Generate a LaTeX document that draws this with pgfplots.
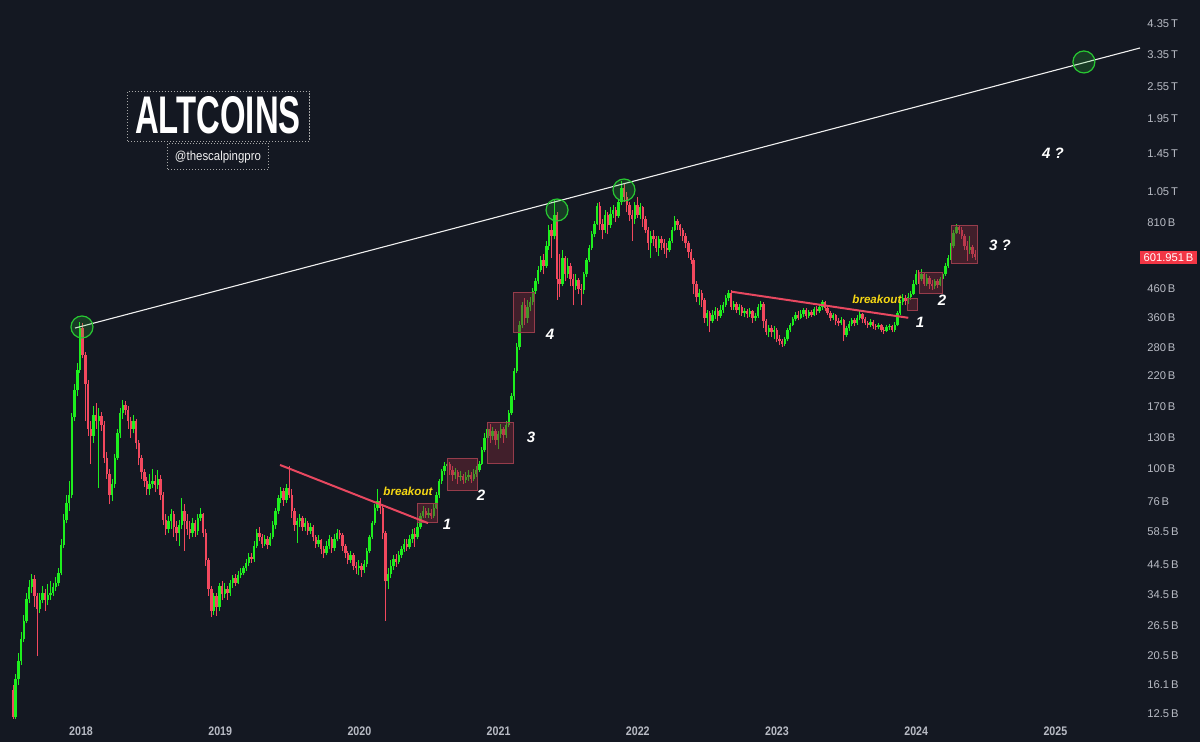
\documentclass[border=0pt]{standalone}
\usepackage{pgfplots}
\pgfplotsset{compat=1.18}
\usepackage{pgfplotstable}
\usepackage{graphicx}
\usepackage{fontspec}
\setmainfont{Liberation Sans}
\definecolor{bg}{HTML}{141822}
\definecolor{cup}{RGB}{30,238,30}
\definecolor{cdn}{RGB}{242,72,94}
\definecolor{tickc}{HTML}{B8BBC4}
\definecolor{boxfill}{RGB}{120,40,55}
\definecolor{boxline}{RGB}{150,60,75}
\definecolor{trendred}{RGB}{232,72,96}
\definecolor{circ}{RGB}{40,200,50}
\definecolor{brk}{RGB}{246,216,20}
\definecolor{pricebox}{RGB}{242,54,69}

\pgfplotstableread{
i o h l c
0 15.3 16 12 12.2
1 12.2 17.5 12 16.8
2 16.8 21 16 19.6
3 19.6 25 19 23.6
4 23.6 29 23 27.5
5 27.5 35 27 33.1
6 33.1 39 32 36.6
7 36.6 41 35 39.2
8 39.2 40.5 31 34
9 34 35 20.5 30.5
10 30.5 35 29.5 33
11 33 37 32 34.8
12 34.8 36 30 32.8
13 32.8 37.5 31.5 34.2
14 34.2 38.5 33 35
15 35 38 34 36.6
16 36.6 40 35.5 38
17 38 43 37 41.3
18 41.3 55 40.5 52.6
19 52.6 68 51 65
20 65 80 63 75
21 75 90 70 80
22 80 160 78 155
23 155 205 150 195
24 195 245 185 231
25 231 348 225 330
26 330 345 255 262
27 262 270 150 205
28 205 212 132 140
29 140 150 104 132
30 132 170 125 158
31 158 175 140 150
32 150 168 85 156
33 156 162 138 145
34 145 150 105 110
35 110 115 92 96
36 96 100 74 80
37 80 92 76 88
38 88 113 85 110
39 110 140 108 135
40 135 168 130 160
41 160 180 152 172
42 172 178 158 165
43 165 170 140 150
44 150 155 130 140
45 140 158 135 150
46 150 152 118 125
47 125 128 103 110
48 110 112 92 97
49 97 100 86 90
50 90 93 80 84
51 84 96 80 88
52 88 100 85 90
53 90 95 82 87
54 87 99 84 92
55 92 95 77 80
56 80 82 62 65
57 65 68 57 60
58 60 67 58 64
59 64 71 60 68
60 68 70 56 61
61 61 64 54 58
62 58 65 52 62
63 62 78 60 70
64 70 74 50 64
65 64 68 57 60
66 60 64 55 58
67 58 66 56 63
68 63 65 56 59
69 59 68 57 66
70 66 72 64 68
71 68 69 56 58
72 58 60 44 46
73 46 47 34 36
74 36 37 28.4 30
75 30 35 29 34
76 34 35 28.8 31
77 31 38 30 37
78 37 38.5 33 34.5
79 34.5 38 33.5 36
80 36 37 33 35
81 35 39 34 38
82 38 40.5 36.5 39.5
83 39.5 41 37 38
84 38 42 37.5 40.5
85 40.5 43 39.5 41.5
86 41.5 44 40.5 43
87 43 46.5 42 45
88 45 49 44 47.5
89 47.5 49 45 46.5
90 46.5 54 45.5 52
91 52 60 51 58
92 58 61 54 56
93 56 57.5 51 53
94 53 57 52 55
95 55 56.5 50.5 52.5
96 52.5 58 52 56
97 56 64 55 62
98 62 72 60 70
99 70 80 68 78
100 78 86 75 83
101 83 85 73 77
102 77 88 75 85
103 85 102 78 80
104 80 84 66 70
105 70 72 59 62
106 62 66 53.5 64
107 64 68 61 66
108 66 67 59 61
109 61 66 59 63
110 63 64 57 59
111 59 63 57.5 61
112 61 62 54 56
113 56 57 51 53
114 53 57 51.5 54.5
115 54.5 55 48.5 50.5
116 50.5 52 47 49
117 49 54 48 52
118 52 57 50.5 55
119 55 56 49 51
120 51 57.5 50 55
121 55 60 54 58
122 58 59.5 55 57
123 57 58 50 52
124 52 53 47 49
125 49 50 44.5 46
126 46 50 45 48
127 48 49 42.5 44
128 44 45.5 41 43
129 43 46 40.5 44
130 44 45 40 42.5
131 42.5 46 41.5 44.5
132 44.5 51 43.5 50
133 50 57 49 56
134 56 64.5 55 63
135 63 74 62 72
136 72 84 70 76
137 76 78 68 72
138 72 73 55 58
139 58 59 27.6 38.5
140 38.5 43 36 41
141 41 46 39.5 44
142 44 48 42.5 46.5
143 46.5 48.5 43.5 45.5
144 45.5 50 44.5 48
145 48 52 47 50.5
146 50.5 55 49.5 53
147 53 55 50 51.5
148 51.5 57 50.5 55
149 55 60 53.5 57.5
150 57.5 60.5 51.5 56
151 56 63 55 61
152 61 69 60 67
153 67 73 66 70
154 70 71.5 66 67.5
155 67.5 72 66 69
156 69 71 65.5 67
157 67 74 66 72
158 72 82 71 80
159 80 92 78 90
160 90 100 88 98
161 98 106 95 102
162 102 108 98 104
163 104 106 95 99
164 99 102 90 95
165 95 101 92 97
166 97 99 88 93
167 93 98 90 94
168 94 96 88 91
169 91 97 89 93
170 93 99 90 95
171 95 97 89 92
172 92 100 90 96
173 96 102 93 99
174 99 107 97 104
175 104 120 103 117
176 117 135 115 130
177 130 145 127 140
178 140 146 125 132
179 132 143 128 138
180 138 140 122 128
181 128 138 118 134
182 134 146 130 140
183 140 143 125 133
184 133 150 130 145
185 145 165 142 160
186 160 190 158 185
187 185 235 180 230
188 230 290 225 280
189 280 350 275 340
190 340 410 330 400
191 400 425 340 360
192 360 420 345 395
193 395 430 380 410
194 410 465 400 450
195 450 505 440 490
196 490 560 480 540
197 540 610 530 590
198 590 620 520 560
199 560 690 550 660
200 660 790 640 760
201 760 800 600 720
202 720 990 700 860
203 860 880 420 500
204 500 620 430 480
205 480 640 470 600
206 600 610 490 520
207 520 600 505 560
208 560 575 470 500
209 500 520 400 470
210 470 520 455 495
211 495 505 440 460
212 460 480 400 455
213 455 530 440 520
214 520 600 510 590
215 590 670 580 650
216 650 750 640 730
217 730 820 715 800
218 800 950 790 930
219 930 960 760 800
220 800 830 700 760
221 760 900 740 860
222 860 880 730 790
223 790 920 770 870
224 870 940 840 900
225 900 920 810 850
226 850 990 840 960
227 960 1150 940 1080
228 1080 1120 960 1000
229 1000 1050 880 940
230 940 960 820 860
231 860 900 690 830
232 830 960 800 940
233 940 1000 840 860
234 860 950 830 920
235 920 930 780 830
236 830 850 740 760
237 760 780 640 680
238 680 750 600 720
239 720 760 660 700
240 700 720 630 650
241 650 720 610 700
242 700 720 640 680
243 680 700 620 650
244 650 680 600 640
245 640 710 630 690
246 690 780 680 760
247 760 850 750 820
248 820 830 760 790
249 790 800 720 760
250 760 770 690 720
251 720 740 650 680
252 680 690 600 630
253 630 645 570 590
254 590 600 440 480
255 480 490 410 430
256 430 460 400 445
257 445 455 395 420
258 420 425 345 360
259 360 385 335 375
260 375 380 318 350
261 350 385 345 370
262 370 395 355 380
263 380 390 350 365
264 365 400 360 385
265 385 410 375 400
266 400 435 395 425
267 425 455 415 445
268 445 455 385 395
269 395 415 385 405
270 405 410 375 385
271 385 405 370 395
272 395 400 365 375
273 375 390 362 380
274 380 388 360 372
275 372 392 362 380
276 380 385 345 360
277 360 375 350 365
278 365 405 360 395
279 395 415 385 405
280 405 410 330 350
281 350 355 310 320
282 320 340 305 330
283 330 338 305 318
284 318 335 300 325
285 325 330 292 300
286 300 310 285 295
287 295 300 282 288
288 288 305 283 300
289 300 330 295 325
290 325 345 318 340
291 340 362 335 355
292 355 378 350 370
293 370 380 352 360
294 360 385 355 372
295 372 392 362 385
296 385 390 355 365
297 365 386 360 378
298 378 385 362 370
299 370 395 365 388
300 388 398 370 380
301 380 405 375 395
302 395 418 385 410
303 410 415 380 390
304 390 395 368 375
305 375 382 350 360
306 360 375 352 368
307 368 372 340 350
308 350 358 335 345
309 345 362 340 352
310 352 356 295 310
311 310 335 305 330
312 330 350 322 342
313 342 360 335 352
314 352 358 335 345
315 345 368 340 360
316 360 380 352 372
317 372 376 345 355
318 355 362 338 345
319 345 350 330 340
320 340 355 333 348
321 348 352 328 335
322 335 342 325 332
323 332 345 326 338
324 338 342 318 325
325 325 332 315 322
326 322 338 318 332
327 332 342 325 336
328 336 340 318 325
329 325 348 320 340
330 340 380 335 375
331 375 420 370 410
332 410 440 400 425
333 425 435 400 415
334 415 445 405 430
335 430 450 420 440
336 440 495 435 480
337 480 540 475 520
338 520 540 480 500
339 500 545 490 520
340 520 530 470 480
341 480 520 470 505
342 505 515 460 480
343 480 495 455 470
344 470 500 460 490
345 490 500 462 475
346 475 510 470 500
347 500 530 495 520
348 520 575 515 560
349 560 615 550 600
350 600 680 590 660
351 660 760 650 740
352 740 795 730 775
353 775 790 730 760
354 760 780 700 720
355 720 735 640 660
356 660 690 585 640
357 640 720 620 655
358 655 670 600 620
359 620 640 590 602
}\candles

\pgfplotsset{
  candle/.style n args={2}{draw=none, mark=none, forget plot,
    error bars/.cd, y dir=plus, y explicit, error mark=none,
    error bar style={draw=#1, line width=#2, solid}},
}
\newcommand{\yr}[1]{\scalebox{0.86}[1]{\bfseries #1}}

\begin{document}
\begin{tikzpicture}
\useasboundingbox (0,0) rectangle (600pt,371pt);
\fill[bg] (0,0) rectangle (600pt,371pt);
\begin{axis}[
  at={(0pt,11pt)}, anchor=south west,
  scale only axis, width=570pt, height=360pt,
  xmin=2017.418, xmax=2025.608,
  ymode=log, ymin=11.88, ymax=5332,
  axis line style={draw=none},
  major tick length=0pt, minor tick length=0pt,
  clip mode=individual,
  xtick={2018,2019,2020,2021,2022,2023,2024,2025},
  xticklabels={\yr{2018},\yr{2019},\yr{2020},\yr{2021},\yr{2022},\yr{2023},\yr{2024},\yr{2025}},
  xticklabel style={font=\fontsize{6.2}{6.5}\selectfont, text=tickc, anchor=center, yshift=-5.5pt},
  ytick={12.5,16.1,20.5,26.5,34.5,44.5,58.5,76,100,130,170,220,280,360,460,810,1050,1450,1950,2550,3350,4350},
  yticklabels={12.5\,B,16.1\,B,20.5\,B,26.5\,B,34.5\,B,44.5\,B,58.5\,B,76\,B,100\,B,130\,B,170\,B,220\,B,280\,B,360\,B,460\,B,810\,B,1.05\,T,1.45\,T,1.95\,T,2.55\,T,3.35\,T,4.35\,T},
  yticklabel pos=right,
  yticklabel style={font=\fontsize{5.6}{6}\selectfont, text=tickc, anchor=west, inner sep=0pt, xshift=3.5pt},
]
% wicks
\addplot[restrict expr to domain={\thisrow{c}-\thisrow{o}}{0:100000}, candle={cup}{0.5pt}]
  table[x expr=2017.5115+0.019253*\thisrow{i}, y=l, y error expr=\thisrow{h}-\thisrow{l}] {\candles};
\addplot[restrict expr to domain={\thisrow{c}-\thisrow{o}}{-100000:-0.000001}, candle={cdn}{0.5pt}]
  table[x expr=2017.5115+0.019253*\thisrow{i}, y=l, y error expr=\thisrow{h}-\thisrow{l}] {\candles};
% bodies
\addplot[restrict expr to domain={\thisrow{c}-\thisrow{o}}{0:100000}, candle={cup}{1.2pt}]
  table[x expr=2017.5115+0.019253*\thisrow{i}, y=o, y error expr=\thisrow{c}-\thisrow{o}] {\candles};
\addplot[restrict expr to domain={\thisrow{c}-\thisrow{o}}{-100000:-0.000001}, candle={cdn}{1.2pt}]
  table[x expr=2017.5115+0.019253*\thisrow{i}, y=c, y error expr=\thisrow{o}-\thisrow{c}] {\candles};

% boxes
\addplot[fill=boxfill, fill opacity=0.45, draw=boxline, line width=0.4pt] coordinates {(2020.42,63.7) (2020.56,63.7) (2020.56,74.8) (2020.42,74.8)} -- cycle;
\addplot[fill=boxfill, fill opacity=0.45, draw=boxline, line width=0.4pt] coordinates {(2020.63,83.5) (2020.85,83.5) (2020.85,109.5) (2020.63,109.5)} -- cycle;
\addplot[fill=boxfill, fill opacity=0.45, draw=boxline, line width=0.4pt] coordinates {(2020.917,105) (2021.103,105) (2021.103,148) (2020.917,148)} -- cycle;
\addplot[fill=boxfill, fill opacity=0.45, draw=boxline, line width=0.4pt] coordinates {(2021.103,318) (2021.26,318) (2021.26,445) (2021.103,445)} -- cycle;
\addplot[fill=boxfill, fill opacity=0.45, draw=boxline, line width=0.4pt] coordinates {(2023.94,383) (2024.006,383) (2024.006,426) (2023.94,426)} -- cycle;
\addplot[fill=boxfill, fill opacity=0.45, draw=boxline, line width=0.4pt] coordinates {(2024.02,441) (2024.19,441) (2024.19,530) (2024.02,530)} -- cycle;
\addplot[fill=boxfill, fill opacity=0.45, draw=boxline, line width=0.4pt] coordinates {(2024.25,573) (2024.44,573) (2024.44,785) (2024.25,785)} -- cycle;

% trend lines
\addplot[white!88!gray, line width=0.55pt] coordinates {(2017.957,330) (2025.608,3549)};
\addplot[trendred, line width=1pt] coordinates {(2019.43,103.3) (2020.493,63.1)};
\addplot[trendred, line width=1pt] coordinates {(2022.675,449) (2023.943,360)};

% circles
\addplot[only marks, mark=*, mark size=5.5pt, mark options={draw=circ, fill=circ, fill opacity=0.2, line width=0.6pt}] coordinates {(2018.007,333) (2021.420,898) (2021.901,1064) (2025.205,3152)};

% labels
\node[text=white, font=\bfseries\itshape\fontsize{7.5}{8}\selectfont] at (axis cs:2020.629,62.6) {1};
\node[text=white, font=\bfseries\itshape\fontsize{7.5}{8}\selectfont] at (axis cs:2020.874,80) {2};
\node[text=white, font=\bfseries\itshape\fontsize{7.5}{8}\selectfont] at (axis cs:2021.233,131) {3};
\node[text=white, font=\bfseries\itshape\fontsize{7.5}{8}\selectfont] at (axis cs:2021.369,314) {4};
\node[text=brk, font=\bfseries\itshape\fontsize{5.8}{6}\selectfont] at (axis cs:2020.349,82.8) {breakout};
\node[text=white, font=\bfseries\itshape\fontsize{7.5}{8}\selectfont] at (axis cs:2024.027,347) {1};
\node[text=white, font=\bfseries\itshape\fontsize{7.5}{8}\selectfont] at (axis cs:2024.185,419) {2};
\node[text=white, font=\bfseries\itshape\fontsize{7.5}{8}\selectfont] at (axis cs:2024.602,667) {3 ?};
\node[text=white, font=\bfseries\itshape\fontsize{7.5}{8}\selectfont] at (axis cs:2024.983,1456) {4 ?};
\node[text=brk, font=\bfseries\itshape\fontsize{5.8}{6}\selectfont] at (axis cs:2023.718,422) {breakout};
\node[fill=pricebox, text=white, anchor=west, inner xsep=1.6pt, inner ysep=1.2pt, font=\fontsize{5.6}{6}\selectfont] at (axis cs:2025.608,601.951) {601.951\,B};
\end{axis}
% title boxes
\draw[gray!70, line width=0.3pt, dash pattern=on 0.6pt off 0.9pt] (63.8pt,300.5pt) rectangle (154.6pt,325.5pt);
\node[text=white, inner sep=0pt] at (109pt,313.3pt) {\scalebox{0.62}[1]{\fontsize{26.5}{26.5}\selectfont\bfseries ALTCOINS}};
\draw[gray!70, line width=0.3pt, dash pattern=on 0.6pt off 0.9pt] (83.8pt,286.3pt) rectangle (134.2pt,299.3pt);
\node[text=white!90!gray, inner sep=0pt] at (109pt,292.6pt) {\scalebox{0.88}[1]{\fontsize{6.5}{7}\selectfont @thescalpingpro}};
\end{tikzpicture}
\end{document}
